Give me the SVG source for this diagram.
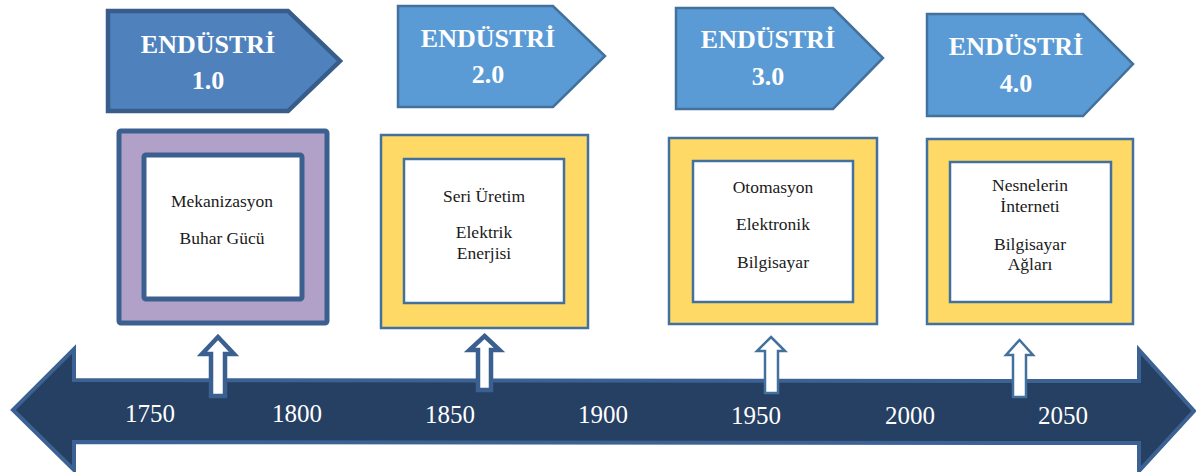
<svg xmlns="http://www.w3.org/2000/svg" width="1196" height="472" viewBox="0 0 1196 472">
<style>
.tag{fill:#5b9bd5;stroke:#41719c;stroke-width:2.5;stroke-linejoin:miter}
.tag1{fill:#4f81bd;stroke:#385d8a;stroke-width:4.5}
.tt{font-family:"Liberation Serif","Times New Roman",serif;font-weight:bold;font-size:26px;fill:#ffffff;text-anchor:middle}
.outer{fill:#ffd966;stroke:#41719c;stroke-width:2.5}
.outer1{fill:#b1a0c7;stroke:#3b6090;stroke-width:5}
.inner{fill:#ffffff;stroke:#41719c;stroke-width:2.5}
.inner1{fill:#ffffff;stroke:#3b6090;stroke-width:5}
.bt{font-family:"Liberation Serif","Times New Roman",serif;font-size:17.5px;fill:#1a1a1a;text-anchor:middle}
.yr{font-family:"Liberation Serif","Times New Roman",serif;font-size:25px;fill:#ffffff;text-anchor:middle}
.up{fill:#ffffff;stroke:#41719c;stroke-width:2.5}
.upb{fill:#ffffff;stroke:#3b6090;stroke-width:4.5}
</style>

<g id="timeline">
<polygon points="13,410 74,349 74,380 1139,381 1139,350 1194,411 1139,471 1139,443 74,442 74,470" fill="#264063" stroke="#3c6293" stroke-width="4" stroke-linejoin="miter"/>
<text class="yr" x="150" y="422">1750</text>
<text class="yr" x="297" y="422">1800</text>
<text class="yr" x="450" y="423">1850</text>
<text class="yr" x="603" y="423">1900</text>
<text class="yr" x="756" y="424">1950</text>
<text class="yr" x="910" y="424">2000</text>
<text class="yr" x="1063" y="424">2050</text>
</g>

<g id="connectors">
<polygon class="upb" points="218,337 234,354 225,354 225,396 211,396 211,354 202,354"/>
<polygon class="upb" points="484.5,336 499.5,350 491,350 491,390 478,390 478,350 469.5,350"/>
<polygon class="up" points="771,337 785,351 778,351 778,393 765,393 765,351 757,351"/>
<polygon class="up" points="1019.5,340 1033,355 1026,355 1026,397 1013,397 1013,355 1006,355"/>
</g>

<g id="endustri1">
<polygon class="tag1" points="108,11 288,11 340,61 288,111 108,111"/>
<text class="tt" x="208" y="53">ENDÜSTRİ</text>
<text class="tt" x="208" y="89">1.0</text>
</g>
<g id="endustri2">
<polygon class="tag" points="398,6 553,6 605,56 553,107 398,107"/>
<text class="tt" x="488" y="47">ENDÜSTRİ</text>
<text class="tt" x="488" y="83">2.0</text>
</g>
<g id="endustri3">
<polygon class="tag" points="676,8 833,8 883,58 833,109 676,109"/>
<text class="tt" x="768" y="48">ENDÜSTRİ</text>
<text class="tt" x="768" y="85">3.0</text>
</g>
<g id="endustri4">
<polygon class="tag" points="927,14 1083,14 1133,64 1083,116 927,116"/>
<text class="tt" x="1016" y="55">ENDÜSTRİ</text>
<text class="tt" x="1016" y="92">4.0</text>
</g>

<g id="box1">
<rect class="outer1" x="119" y="131" width="208" height="192" rx="2"/>
<rect class="inner1" x="144" y="155" width="158" height="144" rx="2"/>
<text class="bt" x="222" y="207">Mekanizasyon</text>
<text class="bt" x="222" y="244">Buhar Gücü</text>
</g>
<g id="box2">
<rect class="outer" x="381" y="135" width="207" height="193"/>
<rect class="inner" x="404" y="159" width="160" height="144"/>
<text class="bt" x="484" y="202">Seri Üretim</text>
<text class="bt" x="484" y="238">Elektrik</text>
<text class="bt" x="484" y="259">Enerjisi</text>
</g>
<g id="box3">
<rect class="outer" x="669" y="138" width="208" height="186"/>
<rect class="inner" x="693" y="161" width="160" height="141"/>
<text class="bt" x="773" y="193">Otomasyon</text>
<text class="bt" x="773" y="230">Elektronik</text>
<text class="bt" x="773" y="268">Bilgisayar</text>
</g>
<g id="box4">
<rect class="outer" x="927" y="139" width="206" height="185"/>
<rect class="inner" x="950" y="162" width="161" height="140"/>
<text class="bt" x="1030" y="191">Nesnelerin</text>
<text class="bt" x="1030" y="212">İnterneti</text>
<text class="bt" x="1030" y="250">Bilgisayar</text>
<text class="bt" x="1030" y="270">Ağları</text>
</g>
</svg>
